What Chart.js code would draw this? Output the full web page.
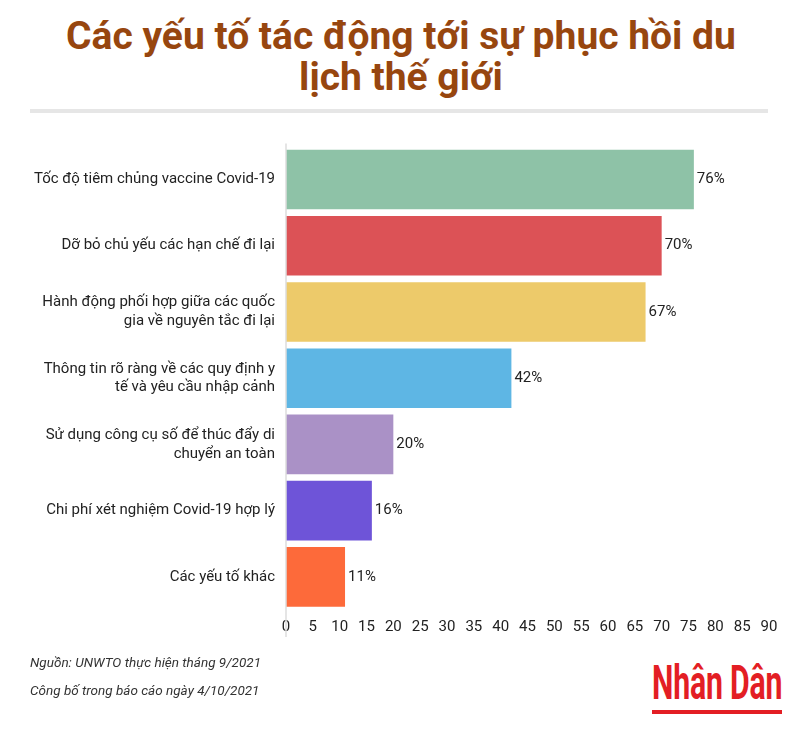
<!DOCTYPE html>
<html>
<head>
<meta charset="utf-8">
<script src="https://cdn.jsdelivr.net/npm/chart.js@4"></script>
<style>
  html, body { margin: 0; padding: 0; background: #fff; }
  body { width: 790px; height: 744px; position: relative; overflow: hidden; font-family: Roboto, sans-serif; }
  #title {
    position: absolute; left: 6px; top: 16px; width: 790px;
    text-align: center; color: #97460f; font-weight: 700; font-size: 39px; line-height: 41px;
  }
  #rule { position: absolute; left: 30px; top: 109px; width: 738px; height: 4px; background: #e6e6e6; }
  #wrap { position: absolute; left: 0; top: 126px; width: 790px; height: 524px; }
  #note {
    position: absolute; left: 30px; top: 648px; font-style: italic; font-size: 13.5px;
    line-height: 28px; color: #333;
  }
  #logo {
    position: absolute; left: 652px; top: 658px; width: 130px; height: 58px;
  }
  #logo span {
    display: inline-block; color: #e31e24; font-family: "Liberation Sans Narrow", Roboto, sans-serif;
    font-weight: 700; font-size: 48px; line-height: 50px; transform: scaleX(0.63); transform-origin: left top;
    white-space: nowrap; letter-spacing: -0.3px;
  }
  #logo div { position: absolute; left: 0; top: 52px; width: 130px; height: 4px; background: #e31e24; }
</style>
</head>
<body>
<div id="title">Các yếu tố tác động tới sự phục hồi du<br>lịch thế giới</div>
<div id="rule"></div>
<div id="wrap"><canvas id="chart"></canvas></div>
<div id="note">Nguồn: UNWTO thực hiện tháng 9/2021<br>Công bố trong báo cáo ngày 4/10/2021</div>
<div id="logo"><span>Nhân Dân</span><div></div></div>
<script>
// các yếu tố (nhãn trục dọc)
const factors = [
  "Tốc độ tiêm chủng vaccine Covid-19",
  "Dỡ bỏ chủ yếu các hạn chế đi lại",
  ["Hành động phối hợp giữa các quốc", "gia về nguyên tắc đi lại"],
  ["Thông tin rõ ràng về các quy định y", "tế và yêu cầu nhập cảnh"],
  ["Sử dụng công cụ số để thúc đẩy di", "chuyển an toàn"],
  "Chi phí xét nghiệm Covid-19 hợp lý",
  "Các yếu tố khác"
];
const percents = [76, 70, 67, 42, 20, 16, 11];
const barColors = ["#8ec2a7", "#dc5256", "#edca6a", "#5eb6e4", "#aa91c6", "#6e54d8", "#fd6a3a"];
const xTicks = [0, 5, 10, 15, 20, 25, 30, 35, 40, 45, 50, 55, 60, 65, 70, 75, 80, 85, 90];

// nhãn % ở cuối mỗi thanh + đường trục dọc
const extras = {
  id: "extras",
  afterDatasetsDraw(chart) {
    const ctx = chart.ctx;
    const meta = chart.getDatasetMeta(0);
    ctx.save();
    ctx.font = "15px Roboto";
    ctx.fillStyle = "#222";
    ctx.textAlign = "left";
    ctx.textBaseline = "middle";
    meta.data.forEach((bar, i) => {
      ctx.fillText(percents[i] + "%", bar.x + 3, bar.y);
    });
    const x0 = chart.scales.x.getPixelForValue(0);
    ctx.strokeStyle = "#dcdcdc";
    ctx.lineWidth = 1.5;
    ctx.beginPath();
    ctx.moveTo(x0, chart.chartArea.top - 3);
    ctx.lineTo(x0, chart.chartArea.bottom + 27);
    ctx.stroke();
    ctx.restore();
  }
};

new Chart(document.getElementById("chart"), {
  type: "bar",
  data: {
    labels: factors,
    datasets: [{
      data: percents,
      backgroundColor: barColors,
      barPercentage: 0.9,
      categoryPercentage: 1
    }]
  },
  options: {
    indexAxis: "y",
    responsive: true,
    maintainAspectRatio: false,
    animation: false,
    layout: { padding: { top: 8, right: 21, bottom: 6, left: 0 } },
    plugins: { legend: { display: false }, tooltip: { enabled: false } },
    scales: {
      x: {
        min: 0,
        max: 90,
        afterBuildTicks: s => { s.ticks = xTicks.map(v => ({ value: v })); },
        grid: { display: false, drawTicks: false },
        border: { display: false },
        ticks: { color: "#222", padding: 8, font: { family: "Roboto", size: 15 }, maxRotation: 0, autoSkip: false }
      },
      y: {
        afterFit: s => { s.width = 286; },
        grid: { display: false, drawTicks: false },
        border: { display: false },
        ticks: { color: "#222", padding: 11, font: { family: "Roboto", size: 15, lineHeight: 1.25 } }
      }
    }
  },
  plugins: [extras]
});
</script>
</body>
</html>
